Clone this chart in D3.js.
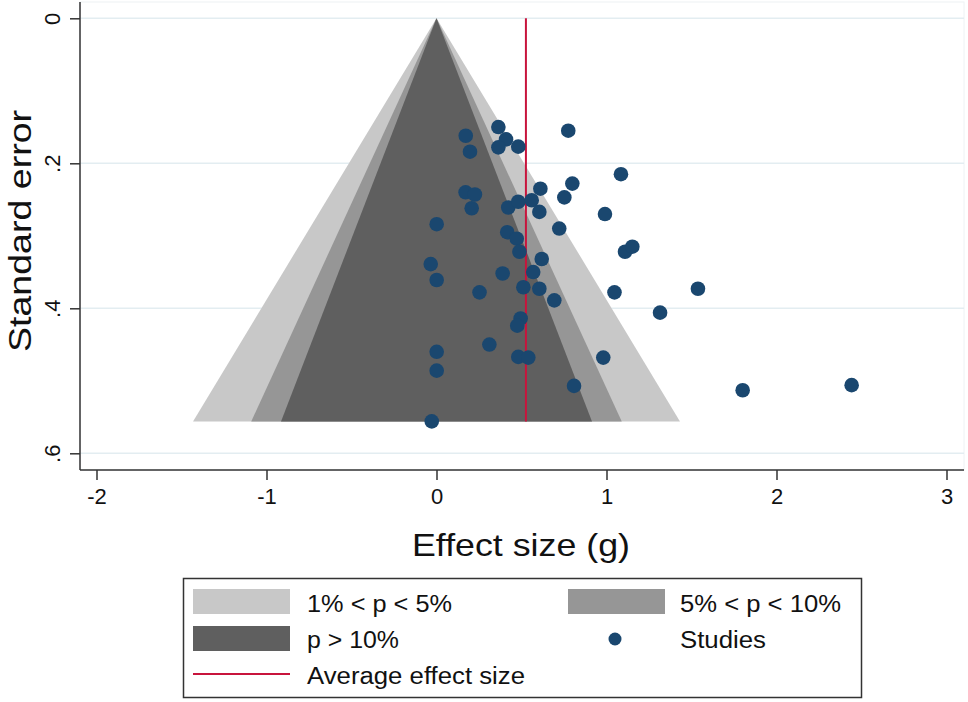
<!DOCTYPE html>
<html>
<head>
<meta charset="utf-8">
<script src="https://cdn.jsdelivr.net/npm/d3@7/dist/d3.min.js"></script>
<style>
  html, body { margin: 0; padding: 0; background: #fff; }
  svg { display: block; font-family: "Liberation Sans", Arial, sans-serif; }
</style>
</head>
<body>
<svg id="chart" width="968" height="702"></svg>
<script>
// ---- Data ----
const effectSizes = [0.364, 0.775, 0.172, 0.409, 0.364, 0.481, 0.197, 1.085, 0.799, 0.611,
  0.171, 0.226, 0.752, 0.207, 0.422, 0.481, 0.560, 0.605, 0.991, 0.001,
  0.722, 0.416, 0.472, 0.488, 0.619, 1.109, 1.152, -0.034, 0.389, 0.001,
  0.569, 0.253, 0.511, 0.605, 1.047, 1.538, 0.693, 1.315, 0.495, 0.475,
  0.311, 0.001, 0.481, 0.540, 0.981, 0.001, 0.809, -0.028, 1.801, 2.442];
const standardErrors = [0.150, 0.155, 0.162, 0.167, 0.178, 0.177, 0.184, 0.215, 0.228, 0.235,
  0.240, 0.243, 0.247, 0.262, 0.261, 0.253, 0.251, 0.267, 0.270, 0.284,
  0.290, 0.295, 0.304, 0.322, 0.332, 0.322, 0.315, 0.339, 0.352, 0.361,
  0.350, 0.378, 0.371, 0.373, 0.378, 0.373, 0.389, 0.406, 0.414, 0.424,
  0.450, 0.460, 0.467, 0.468, 0.468, 0.486, 0.507, 0.556, 0.513, 0.506];
const averageEffect = 0.526;
const maxSE = 0.556;
const contourZ = [2.576, 1.96, 1.645];               // p = 1%, 5%, 10%
const contourLabels = ["1% < p < 5%", "5% < p < 10%", "p > 10%"];
const xTicks = [-2, -1, 0, 1, 2, 3];
const yTicks = [0, 0.2, 0.4, 0.6];
const yTickLabels = ["0", ".2", ".4", ".6"];

// ---- Styles ----
const contourColors = ["#c8c8c8", "#969696", "#5f5f5f"];
const dotColor = "#1a476f";
const lineColor = "#c8143c";
const axisColor = "#333333";
const gridColor = "#e3edf1";

const svg = d3.select("#chart");

const plot = { left: 80, right: 964, top: 2, bottom: 470 };
const x = d3.scaleLinear().domain([-2, 3]).range([96.5, 946.5]);
const y = d3.scaleLinear().domain([0, 0.6]).range([18.3, 453.3]);

// plot region outline (faint)
svg.append("rect")
  .attr("x", plot.left).attr("y", plot.top)
  .attr("width", plot.right - plot.left).attr("height", plot.bottom - plot.top)
  .attr("fill", "#fff").attr("stroke", "#eef2f4").attr("stroke-width", 1);

// gridlines
svg.append("g").selectAll("line").data(yTicks).join("line")
  .attr("x1", plot.left).attr("x2", plot.right)
  .attr("y1", d => y(d)).attr("y2", d => y(d))
  .attr("stroke", gridColor).attr("stroke-width", 1.5);

// funnel contours
const funnel = svg.append("g");
contourZ.forEach((z, i) => {
  const pts = [[0, 0], [-z * maxSE, maxSE], [z * maxSE, maxSE]];
  funnel.append("polygon")
    .attr("points", pts.map(p => [x(p[0]), y(p[1])].join(",")).join(" "))
    .attr("fill", contourColors[i]);
});

// average effect line
svg.append("line")
  .attr("x1", x(averageEffect)).attr("x2", x(averageEffect))
  .attr("y1", y(0)).attr("y2", y(maxSE))
  .attr("stroke", lineColor).attr("stroke-width", 2);

// studies
svg.append("g").selectAll("circle").data(effectSizes.map((e, i) => [e, standardErrors[i]]))
  .join("circle")
  .attr("cx", d => x(d[0])).attr("cy", d => y(d[1]))
  .attr("r", 7.3).attr("fill", dotColor);

// axes
const xAxis = d3.axisBottom(x).tickValues(xTicks).tickSize(10).tickPadding(8)
  .tickFormat(d3.format("d"));
const gx = svg.append("g").attr("transform", `translate(0,${plot.bottom})`).call(xAxis);
gx.select(".domain").attr("d", `M${plot.left},0H${plot.right}`);
gx.selectAll("path, line").attr("stroke", axisColor).attr("stroke-width", 1.5);
gx.selectAll("text").attr("font-size", 22).attr("fill", "#111")
  .attr("font-family", "Liberation Sans, Arial, sans-serif")
  .text(d => d < 0 ? "-" + Math.abs(d) : String(d));

const yAxis = d3.axisLeft(y).tickValues(yTicks).tickSize(10).tickFormat((d, i) => yTickLabels[i]);
const gy = svg.append("g").attr("transform", `translate(${plot.left},0)`).call(yAxis);
gy.select(".domain").attr("d", `M0,${plot.top}V${plot.bottom}`);
gy.selectAll("path, line").attr("stroke", axisColor).attr("stroke-width", 1.5);
gy.selectAll(".tick text")
  .attr("font-size", 22).attr("fill", "#111")
  .attr("font-family", "Liberation Sans, Arial, sans-serif")
  .attr("x", null).attr("dy", null)
  .attr("text-anchor", "middle")
  .attr("transform", "translate(-20,0) rotate(-90)");

// axis titles
svg.append("text")
  .attr("x", 521).attr("y", 556)
  .attr("text-anchor", "middle").attr("font-size", 32).attr("fill", "#111")
  .attr("textLength", 218).attr("lengthAdjust", "spacingAndGlyphs")
  .text("Effect size (g)");
svg.append("text")
  .attr("transform", "translate(31,231) rotate(-90)")
  .attr("text-anchor", "middle").attr("font-size", 32).attr("fill", "#111")
  .attr("textLength", 242).attr("lengthAdjust", "spacingAndGlyphs")
  .text("Standard error");

// legend
const lg = svg.append("g");
lg.append("rect").attr("x", 183.5).attr("y", 578.5).attr("width", 678).attr("height", 119)
  .attr("fill", "#fff").attr("stroke", axisColor).attr("stroke-width", 1.5);
const sw = [
  { x: 193, y: 589, color: contourColors[0], label: contourLabels[0], tx: 307, ty: 612, tl: 145 },
  { x: 568, y: 589, color: contourColors[1], label: contourLabels[1], tx: 680, ty: 612, tl: 161 },
  { x: 193, y: 626, color: contourColors[2], label: contourLabels[2], tx: 307, ty: 648, tl: 92 }
];
sw.forEach(s => {
  lg.append("rect").attr("x", s.x).attr("y", s.y).attr("width", 97).attr("height", 25)
    .attr("fill", s.color);
  lg.append("text").attr("x", s.tx).attr("y", s.ty).attr("font-size", 23).attr("fill", "#111")
    .attr("textLength", s.tl).attr("lengthAdjust", "spacingAndGlyphs")
    .text(s.label);
});
lg.append("circle").attr("cx", 615).attr("cy", 639).attr("r", 6.5).attr("fill", dotColor);
lg.append("text").attr("x", 680).attr("y", 648).attr("font-size", 23).attr("fill", "#111")
  .attr("textLength", 86).attr("lengthAdjust", "spacingAndGlyphs").text("Studies");
lg.append("line").attr("x1", 193).attr("x2", 290).attr("y1", 674).attr("y2", 674)
  .attr("stroke", lineColor).attr("stroke-width", 2);
lg.append("text").attr("x", 307).attr("y", 684).attr("font-size", 23).attr("fill", "#111")
  .attr("textLength", 218).attr("lengthAdjust", "spacingAndGlyphs")
  .text("Average effect size");
</script>
</body>
</html>
